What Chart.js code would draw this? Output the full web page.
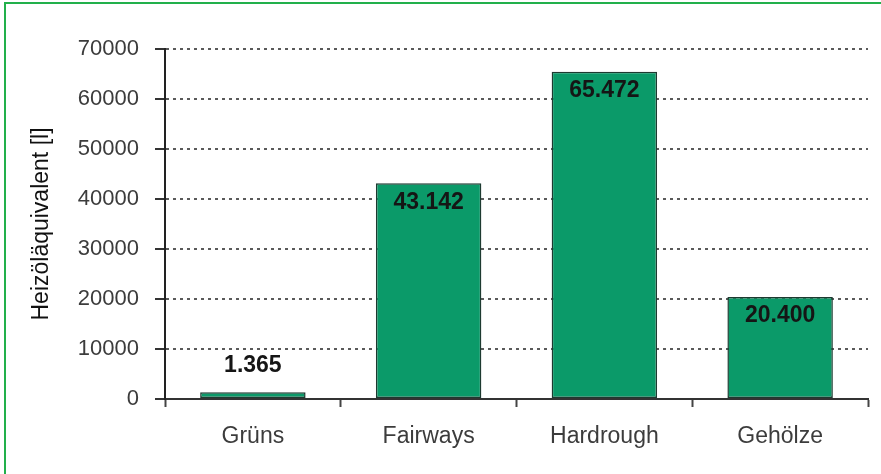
<!DOCTYPE html>
<html>
<head>
<meta charset="utf-8">
<script src="https://cdn.jsdelivr.net/npm/chart.js@4"></script>
<style>
  html, body { margin: 0; padding: 0; background: #fff; }
  #wrap { position: relative; width: 881px; height: 474px; }
  #frame {
    position: absolute; left: 4px; top: 2px; right: 0; bottom: 0;
    border-top: 2px solid #22b04b; border-left: 2px solid #22b04b;
    pointer-events: none;
  }
</style>
</head>
<body>
<div id="wrap">
  <canvas id="Chart1" width="881" height="474"></canvas>
  <div id="frame"></div>
</div>
<script>
// Heizöläquivalent per area type
const categories = ['Grüns', 'Fairways', 'Hardrough', 'Gehölze'];
const values = [1365, 43142, 65472, 20400];
const yTicks = [0, 10000, 20000, 30000, 40000, 50000, 60000, 70000];

// 43142 -> "43.142"
function formatDE(v) {
  return String(v).replace(/\B(?=(\d{3})+(?!\d))/g, '.');
}

const valueLabels = {
  id: 'valueLabels',
  afterDatasetsDraw(chart) {
    const ctx = chart.ctx;
    const meta = chart.getDatasetMeta(0);
    ctx.save();
    ctx.font = 'bold 23px "Liberation Sans", Arial, sans-serif';
    ctx.fillStyle = '#151515';
    ctx.textAlign = 'center';
    ctx.textBaseline = 'middle';
    meta.data.forEach(function(bar, i) {
      const h = bar.base - bar.y;
      const y = h > 40 ? bar.y + 19 : bar.y - 27;
      ctx.fillText(formatDE(values[i]), bar.x, y);
    });
    ctx.restore();
  }
};

const ctx = document.getElementById('Chart1').getContext('2d');
const myChart = new Chart(ctx, {
  type: 'bar',
  data: {
    labels: categories,
    datasets: [{
      data: values,
      backgroundColor: '#0b9a69',
      borderColor: '#1d3a30',
      borderWidth: 1.5,
      borderSkipped: false,
      categoryPercentage: 1,
      barPercentage: 0.6
    }]
  },
  options: {
    responsive: false,
    animation: false,
    layout: { padding: { left: 0, top: 49, right: 13, bottom: 0 } },
    plugins: {
      legend: { display: false },
      tooltip: { enabled: false }
    },
    scales: {
      x: {
        offset: true,
        afterFit: function(scale) { scale.height = 75; },
        grid: {
          offset: true,
          drawOnChartArea: false,
          drawTicks: true,
          tickLength: 8,
          tickColor: '#444',
          tickWidth: 2
        },
        border: { display: true, color: '#333', width: 2 },
        ticks: {
          color: '#3c3c3c',
          padding: 16,
          font: { family: '"Liberation Sans", Arial, sans-serif', size: 23 }
        }
      },
      y: {
        min: 0,
        max: 70000,
        afterFit: function(scale) { scale.width = 165; },
        afterBuildTicks: function(scale) {
          scale.ticks = yTicks.map(function(v) { return { value: v }; });
        },
        grid: {
          color: '#5a5a5a',
          lineWidth: 2,
          tickLength: 10,
          tickColor: '#333',
          tickWidth: 2,
          tickBorderDash: []
        },
        // dotted grid lines; the axis line itself stays solid
        border: { display: true, color: '#222', width: 2, dash: [3, 4] },
        ticks: {
          color: '#3c3c3c',
          padding: 16,
          callback: function(value) { return String(value); },
          font: { family: '"Liberation Sans", Arial, sans-serif', size: 22 }
        },
        title: {
          display: true,
          text: 'Heizöläquivalent [l]',
          color: '#111',
          padding: { top: 28, bottom: 0 },
          font: { family: '"Liberation Sans", Arial, sans-serif', size: 23 }
        }
      }
    }
  },
  plugins: [valueLabels]
});
</script>
</body>
</html>
